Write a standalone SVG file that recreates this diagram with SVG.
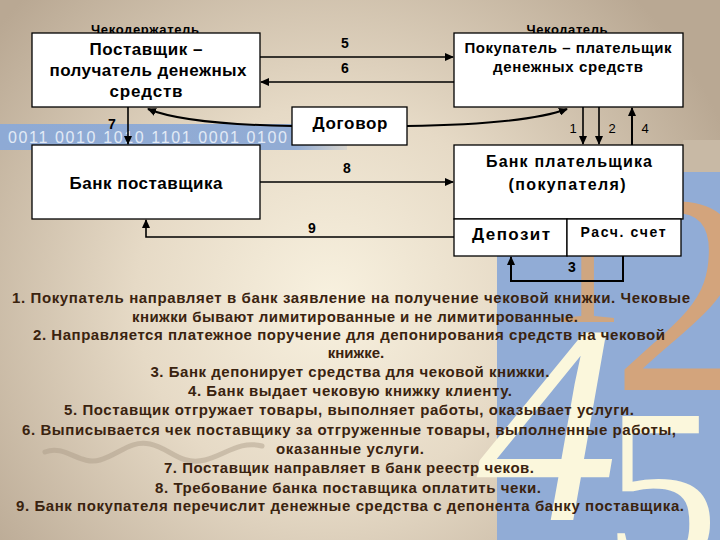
<svg xmlns="http://www.w3.org/2000/svg" width="720" height="540" viewBox="0 0 720 540">
<defs>
<radialGradient id="bg" cx="330" cy="300" r="430" gradientUnits="userSpaceOnUse">
<stop offset="0" stop-color="#f8f1df"/>
<stop offset="0.45" stop-color="#e6dac6"/>
<stop offset="1" stop-color="#b9a893"/>
</radialGradient>
<linearGradient id="band" x1="0" y1="0" x2="347" y2="0" gradientUnits="userSpaceOnUse">
<stop offset="0" stop-color="#8eaad5"/>
<stop offset="0.85" stop-color="#92acd4"/>
<stop offset="1" stop-color="#92acd4" stop-opacity="0.2"/>
</linearGradient>
<marker id="ah" markerUnits="userSpaceOnUse" markerWidth="9" markerHeight="8" refX="8" refY="4" orient="auto">
<path d="M0,0 L9,4 L0,8 z" fill="#000"/>
</marker>
<style>
.box{fill:#fff;stroke:#000;stroke-width:1.3}
.t{font-family:"Liberation Sans",Arial,sans-serif;font-weight:bold;fill:#000;text-anchor:middle}
.n{font-family:"Liberation Sans",Arial,sans-serif;font-weight:bold;font-size:14px;fill:#000;text-anchor:middle}
.nl{font-family:"Liberation Sans",Arial,sans-serif;font-size:13px;fill:#000;text-anchor:middle}
.c{fill:none;stroke:#000;stroke-width:1.6;marker-end:url(#ah)}
.d{font-family:"Liberation Sans",Arial,sans-serif;font-weight:bold;font-size:15px;fill:#3a230f;text-anchor:middle}
.deco{font-family:"Liberation Serif","Times New Roman",serif}
</style>
</defs>

<g id="background">
<rect width="720" height="540" fill="url(#bg)"/>
<rect x="683" y="140" width="37" height="32" fill="#c8b9a5"/>
<rect x="497" y="172" width="223" height="368" fill="#91acd6"/>
<text class="deco" x="548" y="322" font-size="150" fill="#cfa680">1</text>
<text class="deco" x="612" y="390" font-size="285" fill="#d3a47c">2</text>
<text class="deco" x="476" y="520" font-size="285" font-style="italic" fill="#fbf7dc">4</text>
<text class="deco" x="604" y="568" font-size="230" fill="#fbf7dc">5</text>
<path d="M45,452 C65,444 80,466 100,460 C120,454 130,440 150,444 C170,448 180,466 205,460 C225,455 240,440 262,446" fill="none" stroke="#a89a86" stroke-width="5" stroke-opacity="0.45" stroke-linecap="round"/>
<rect x="0" y="124" width="347" height="26" fill="url(#band)"/>
<text x="8" y="143" font-family="'Liberation Sans',Arial,sans-serif" font-size="16" fill="#e2eaf6" textLength="279">0011 0010 1010 1101 0001 0100</text>
</g>

<g id="node-supplier">
<text class="t" x="145" y="34" font-size="13" textLength="108">Чекодержатель</text>
<rect class="box" x="32" y="33" width="228" height="74"/>
<text class="t" x="146" y="55" font-size="17" textLength="113">Поставщик –</text>
<text class="t" x="148" y="76" font-size="17" textLength="197">получатель денежных</text>
<text class="t" x="146" y="97" font-size="17" textLength="73">средств</text>
</g>

<g id="node-buyer">
<text class="t" x="567" y="34" font-size="13" textLength="81">Чекодатель</text>
<rect class="box" x="454" y="33" width="229" height="74"/>
<text class="t" x="568" y="53" font-size="15" textLength="207">Покупатель – плательщик</text>
<text class="t" x="568" y="72" font-size="15" textLength="150">денежных средств</text>
</g>

<g id="node-contract">
<rect class="box" x="292" y="107" width="115" height="38"/>
<text class="t" x="350" y="129" font-size="17" textLength="75">Договор</text>
</g>

<g id="node-supplier-bank">
<rect class="box" x="32" y="145" width="228" height="74"/>
<text class="t" x="146" y="189" font-size="17" textLength="153">Банк поставщика</text>
</g>

<g id="node-buyer-bank">
<rect class="box" x="454" y="145" width="229" height="74"/>
<text class="t" x="569" y="167" font-size="16" textLength="166">Банк плательщика</text>
<text class="t" x="567" y="190" font-size="16" textLength="117">(покупателя)</text>
</g>

<g id="node-deposit">
<rect class="box" x="454" y="219" width="113" height="37"/>
<text class="t" x="511" y="240" font-size="17" textLength="78">Депозит</text>
</g>

<g id="node-account">
<rect class="box" x="567" y="219" width="114" height="37"/>
<text class="t" x="623" y="237" font-size="14" textLength="85">Расч. счет</text>
</g>

<g id="connectors">
<path class="c" d="M260,57 H453"/>
<path class="c" d="M454,82 H261"/>
<path class="c" d="M128,107 V144"/>
<path class="c" d="M260,182 H453"/>
<path class="c" d="M454,237 H146 V220"/>
<path class="c" d="M583,107 V144"/>
<path class="c" d="M599,107 V144"/>
<path class="c" d="M632,145 V108" style="stroke-width:2"/>
<path class="c" d="M623,256 V281 H511 V257" style="stroke-width:2"/>
<path class="c" d="M292,126 C230,125 175,120 148,109" style="stroke-width:2"/>
<path class="c" d="M407,126 C470,125 535,121 567,109" style="stroke-width:2"/>
<text class="n" x="345" y="48">5</text>
<text class="n" x="345" y="73">6</text>
<text class="n" x="112" y="129">7</text>
<text class="n" x="347" y="173">8</text>
<text class="n" x="312" y="233">9</text>
<text class="n" x="572" y="272">3</text>
<text class="nl" x="573" y="133">1</text>
<text class="nl" x="612" y="133">2</text>
<text class="nl" x="645" y="133">4</text>
</g>

<g id="description">
<text class="d" x="351" y="303" textLength="678">1. Покупатель направляет в банк заявление на получение чековой книжки. Чековые</text>
<text class="d" x="355" y="322" textLength="446">книжки бывают лимитированные и не лимитированные.</text>
<text class="d" x="349" y="340" textLength="632">2. Направляется платежное поручение для депонирования средств на чековой</text>
<text class="d" x="356" y="358">книжке.</text>
<text class="d" x="350" y="377" textLength="399">3. Банк депонирует средства для чековой книжки.</text>
<text class="d" x="350" y="396" textLength="324">4. Банк выдает чековую книжку клиенту.</text>
<text class="d" x="349" y="415" textLength="570">5. Поставщик отгружает товары, выполняет работы, оказывает услуги.</text>
<text class="d" x="349" y="435" textLength="654">6. Выписывается чек поставщику за отгруженные товары, выполненные работы,</text>
<text class="d" x="350" y="454" textLength="148">оказанные услуги.</text>
<text class="d" x="349" y="473" textLength="370">7. Поставщик направляет в банк реестр чеков.</text>
<text class="d" x="348" y="493" textLength="386">8. Требование банка поставщика оплатить чеки.</text>
<text class="d" x="350" y="511" textLength="668">9. Банк покупателя перечислит денежные средства с депонента банку поставщика.</text>
</g>
</svg>
